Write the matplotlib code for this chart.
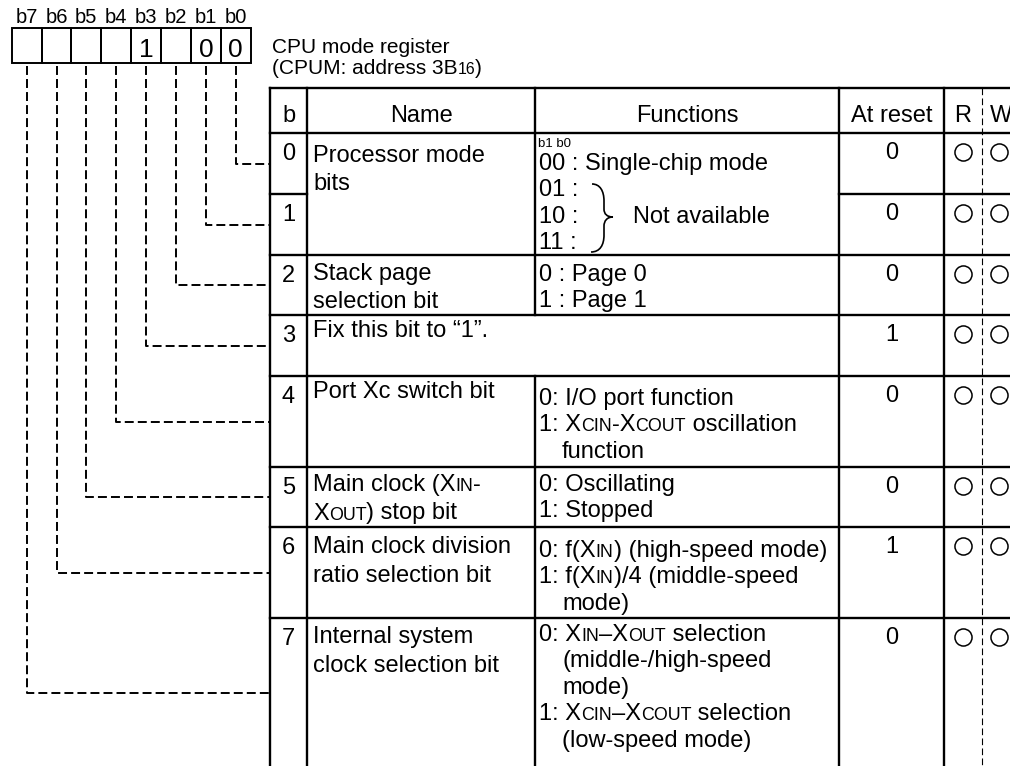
import re
import matplotlib.pyplot as plt
from matplotlib.path import Path
from matplotlib.patches import PathPatch, Rectangle

plt.rcParams['font.family'] = ['Liberation Sans', 'DejaVu Sans']

# register contents, b7 ... b0
bit_labels = ['b7', 'b6', 'b5', 'b4', 'b3', 'b2', 'b1', 'b0']
register_bits = ['', '', '', '', '1', '', '0', '0']
reg_title = ['CPU mode register', '(CPUM: address 3B{16})']

headers = ['b', 'Name', 'Functions', 'At reset', 'R', 'W']
bit_numbers = ['0', '1', '2', '3', '4', '5', '6', '7']
names = [
    ['Processor mode', 'bits'],
    [],
    ['Stack page', 'selection bit'],
    ['Fix this bit to “1”.'],
    ['Port Xc switch bit'],
    ['Main clock (X{IN}-', 'X{OUT}) stop bit'],
    ['Main clock division', 'ratio selection bit'],
    ['Internal system', 'clock selection bit'],
]
functions = [
    ['00 : Single-chip mode', '01 :', '10 :', '11 :'],
    [],
    ['0 : Page 0', '1 : Page 1'],
    [],
    ['0: I/O port function', '1: X{CIN}-X{COUT} oscillation', '  function'],
    ['0: Oscillating', '1: Stopped'],
    ['0: f(X{IN}) (high-speed mode)', '1: f(X{IN})/4 (middle-speed', '  mode)'],
    ['0: X{IN}–X{OUT} selection', '  (middle-/high-speed', '  mode)',
     '1: X{CIN}–X{COUT} selection', '  (low-speed mode)'],
]
mode_bits_label = 'b1 b0'
not_available = 'Not available'
reset_values = [0, 0, 0, 1, 0, 0, 1, 0]
readable = [1, 1, 1, 1, 1, 1, 1, 1]
writable = [1, 1, 1, 1, 1, 1, 1, 1]

# layout (pixels, y downwards)
W, H = 1010, 766
box_x0, box_w, box_top, box_bot = 11.7, 29.87, 28, 63
cols = [270, 307, 535, 839, 944, 982, 1020]
table_top = 88
row_edges = [133, 194, 255, 315, 376, 467, 527, 618, 768]
name_first = [29, 0, 25, 22, 22, 24, 26, 25]
func_first = [37, 0, 26, 0, 29, 24, 30, 23]
body = 17
lw_table = 1.7

fig = plt.figure(figsize=(W / 100, H / 100), dpi=100)
ax = fig.add_axes([0, 0, 1, 1])
ax.set_xlim(0, W)
ax.set_ylim(H, 0)
ax.axis('off')
renderer = fig.canvas.get_renderer()


def rich(x, y, s, size):
    # small caps parts are written in {}
    for part in re.split(r'(\{[^}]*\})', s):
        if not part:
            continue
        small = part.startswith('{')
        t = ax.text(x, y, part.strip('{}'), fontsize=size * 0.76 if small else size,
                    ha='left', va='baseline')
        x += t.get_window_extent(renderer).width


# register boxes
for i, lab in enumerate(bit_labels):
    x = box_x0 + i * box_w
    ax.add_patch(Rectangle((x, box_top), box_w, box_bot - box_top, fill=False, lw=1.4, ec='black'))
    ax.text(x + box_w / 2, 23, lab, fontsize=14.5, ha='center', va='baseline')
    if register_bits[i]:
        ax.text(x + box_w / 2, 57, register_bits[i], fontsize=19, ha='center', va='baseline')

rich(272, 53, reg_title[0], 15)
rich(272, 74, reg_title[1], 15)

# connectors from each bit to its row
for b in range(8):
    x = box_x0 + (7 - b + 0.5) * box_w
    y = (row_edges[b] + row_edges[b + 1]) / 2
    ax.plot([x, x, cols[0]], [box_bot + 3, y, y], color='black', lw=1.4, dashes=(4.6, 2.1))

# table grid
for y in [table_top] + row_edges[1:-1] + [row_edges[0]]:
    if y == row_edges[1]:
        ax.plot([cols[0], cols[1]], [y, y], color='black', lw=lw_table)
        ax.plot([cols[3], W], [y, y], color='black', lw=lw_table)
    else:
        ax.plot([cols[0], W], [y, y], color='black', lw=lw_table)
for x in [cols[0], cols[1], cols[3], cols[4]]:
    ax.plot([x, x], [table_top, H], color='black', lw=lw_table)
ax.plot([cols[2], cols[2]], [table_top, row_edges[3]], color='black', lw=lw_table)
ax.plot([cols[2], cols[2]], [row_edges[4], H], color='black', lw=lw_table)
ax.plot([cols[5], cols[5]], [table_top, H], color='black', lw=0.8, dashes=(6, 3))

# header
for i, h in enumerate(headers):
    ax.text((cols[i] + cols[i + 1]) / 2, 122, h, fontsize=body, ha='center', va='baseline')

# rows
for b in range(8):
    top = row_edges[b]
    ax.text((cols[0] + cols[1]) / 2, top + 27, bit_numbers[b], fontsize=body, ha='center', va='baseline')
    ax.text((cols[3] + cols[4]) / 2, top + 26, str(reset_values[b]), fontsize=body,
            ha='center', va='baseline')
    if readable[b]:
        ax.plot((cols[4] + cols[5]) / 2, top + 19, 'o', ms=12.3, mfc='none', mec='black', mew=1.1)
    if writable[b]:
        ax.plot((cols[5] + cols[6]) / 2 - 2, top + 19, 'o', ms=12.3, mfc='none', mec='black', mew=1.1)
    for k, line in enumerate(names[b]):
        rich(313, top + name_first[b] + k * 28.5, line, body)
    for k, line in enumerate(functions[b]):
        x = 539 + (23 if line.startswith(' ') else 0)
        rich(x, top + func_first[b] + k * 26.4, line.strip(), body)

# b1 b0 marker and brace for the unused modes
ax.text(538, 147, mode_bits_label, fontsize=9.5, ha='left', va='baseline')
ax.text(633, 223, not_available, fontsize=body, ha='left', va='baseline')
brace = Path(
    [(592, 184), (600, 184), (604, 191), (604, 201), (604, 209),
     (604, 214), (607, 217), (613, 217),
     (607, 217), (604, 221), (604, 226), (604, 235),
     (604, 245), (600, 252), (591, 252)],
    [Path.MOVETO, Path.CURVE4, Path.CURVE4, Path.CURVE4, Path.LINETO,
     Path.CURVE4, Path.CURVE4, Path.CURVE4,
     Path.CURVE4, Path.CURVE4, Path.CURVE4, Path.LINETO,
     Path.CURVE4, Path.CURVE4, Path.CURVE4])
ax.add_patch(PathPatch(brace, fill=False, lw=1.2, ec='black'))

fig.savefig('out.png', dpi=100)
